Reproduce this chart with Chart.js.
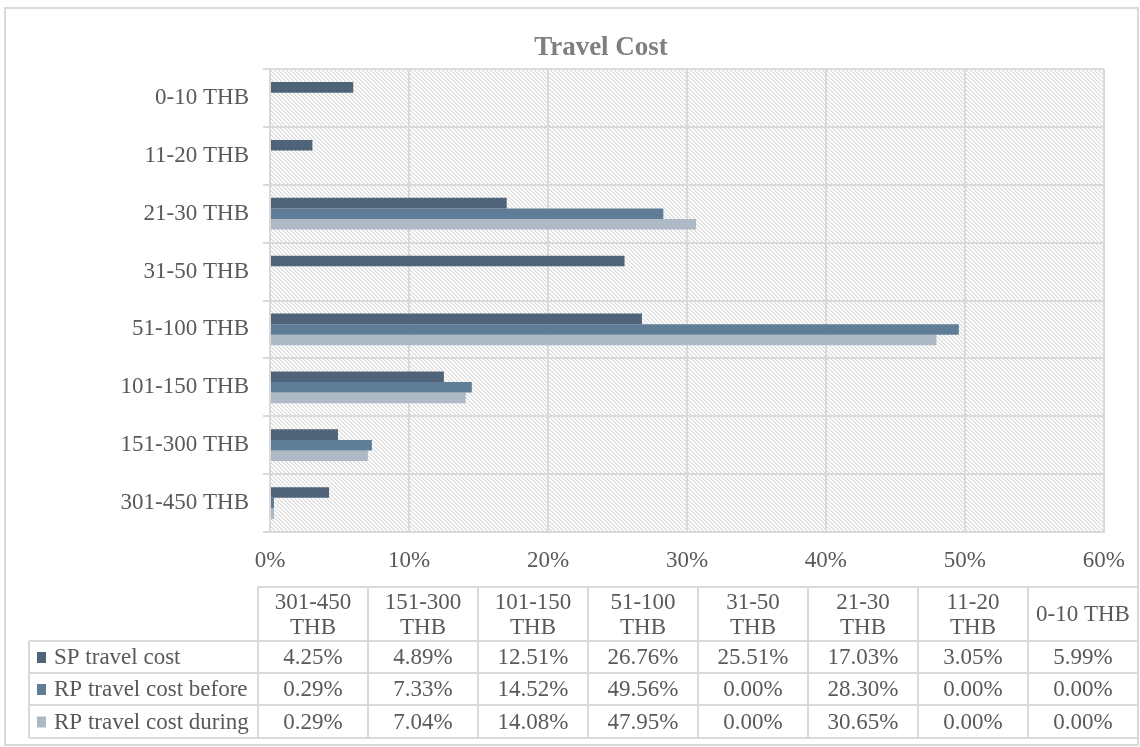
<!DOCTYPE html>
<html>
<head>
<meta charset="utf-8">
<script src="https://cdn.jsdelivr.net/npm/chart.js@4/dist/chart.umd.min.js"></script>
<style>
  html, body { margin: 0; padding: 0; background: #ffffff; }
  canvas { display: block; }
</style>
</head>
<body>
<canvas id="chart" width="1140" height="747"></canvas>
<script>
// Travel cost bands, in the order of the data table (bottom to top on the axis)
const categories = ['301-450 THB', '151-300 THB', '101-150 THB', '51-100 THB', '31-50 THB', '21-30 THB', '11-20 THB', '0-10 THB'];
const seriesNames = ['SP travel cost', 'RP travel cost before', 'RP travel cost during'];
// Shares of respondents, in percent
const spTravelCost = [4.25, 4.89, 12.51, 26.76, 25.51, 17.03, 3.05, 5.99];
const rpTravelCostBefore = [0.29, 7.33, 14.52, 49.56, 0.00, 28.30, 0.00, 0.00];
const rpTravelCostDuring = [0.29, 7.04, 14.08, 47.95, 0.00, 30.65, 0.00, 0.00];
const xTickMax = 60;
const xTickStep = 10;

const seriesColors = ['#4f6479', '#5f7d96', '#adb9c5'];
const textColor = '#595959';
const lineColor = '#d9d9d9';
const fontFamily = '"Liberation Serif", "Times New Roman", serif';

// Diagonal hatch used as the plot background
function makeHatch() {
  const s = 4;
  const tile = document.createElement('canvas');
  tile.width = s; tile.height = s;
  const g = tile.getContext('2d');
  g.fillStyle = '#ffffff';
  g.fillRect(0, 0, s, s);
  for (let i = 0; i < s; i++) {
    g.fillStyle = '#d9d9d9';
    g.fillRect(i, i, 1, 1);
    g.fillStyle = '#ececec';
    g.fillRect((i + 1) % s, i, 1, 1);
  }
  return tile;
}

const backdrop = {
  id: 'backdrop',
  beforeDraw(chart) {
    const ctx = chart.ctx;
    const a = chart.chartArea;
    ctx.save();
    ctx.fillStyle = '#ffffff';
    ctx.fillRect(0, 0, chart.width, chart.height);
    ctx.fillStyle = ctx.createPattern(makeHatch(), 'repeat');
    ctx.fillRect(a.left, a.top, a.right - a.left, a.bottom - a.top);
    ctx.restore();
  }
};

const frameAndTitle = {
  id: 'frameAndTitle',
  afterDraw(chart) {
    const ctx = chart.ctx;
    ctx.save();
    ctx.strokeStyle = lineColor;
    ctx.lineWidth = 2;
    ctx.strokeRect(5, 8, 1133, 737);
    ctx.fillStyle = '#7f7f7f';
    ctx.font = 'bold 27px ' + fontFamily;
    ctx.textAlign = 'center';
    ctx.textBaseline = 'alphabetic';
    ctx.fillText('Travel Cost', 601, 55);
    ctx.restore();
  }
};

// Data table under the axis: one column per band, one row per series
const dataTable = {
  id: 'dataTable',
  afterDraw(chart) {
    const ctx = chart.ctx;
    const labels = chart.data.labels;
    const sets = chart.data.datasets;
    const rowHeadLeft = 29;
    const colStart = 258;
    const right = 1138;
    const rows = [587, 641, 673, 705, 738];
    const colW = (right - colStart) / labels.length;

    ctx.save();
    ctx.strokeStyle = lineColor;
    ctx.lineWidth = 2;
    ctx.beginPath();
    ctx.moveTo(colStart, rows[0]); ctx.lineTo(right, rows[0]);
    for (let r = 1; r < rows.length; r++) {
      ctx.moveTo(rowHeadLeft, rows[r]); ctx.lineTo(right, rows[r]);
    }
    ctx.moveTo(rowHeadLeft, rows[1]); ctx.lineTo(rowHeadLeft, rows[rows.length - 1]);
    for (let c = 0; c <= labels.length; c++) {
      const x = colStart + c * colW;
      ctx.moveTo(x, rows[0]); ctx.lineTo(x, rows[rows.length - 1]);
    }
    ctx.stroke();

    ctx.font = '23px ' + fontFamily;
    ctx.fillStyle = textColor;
    ctx.textAlign = 'center';
    ctx.textBaseline = 'middle';
    labels.forEach((lab, c) => {
      const cx = colStart + (c + 0.5) * colW;
      const cy = (rows[0] + rows[1]) / 2 + 1;
      if (ctx.measureText(lab).width > colW - 8) {
        const k = lab.lastIndexOf(' ');
        ctx.fillText(lab.slice(0, k), cx, cy - 12);
        ctx.fillText(lab.slice(k + 1), cx, cy + 13);
      } else {
        ctx.fillText(lab, cx, cy);
      }
    });

    sets.forEach((ds, r) => {
      const cy = (rows[r + 1] + rows[r + 2]) / 2 + 1;
      ds.data.forEach((v, c) => {
        ctx.fillText(v.toFixed(2) + '%', colStart + (c + 0.5) * colW, cy);
      });
      ctx.fillStyle = ds.backgroundColor;
      ctx.fillRect(37, cy - 6, 9, 11);
      ctx.fillStyle = textColor;
      ctx.textAlign = 'left';
      ctx.fillText(ds.label, 54, cy);
      ctx.textAlign = 'center';
    });
    ctx.restore();
  }
};

const seriesValues = [spTravelCost, rpTravelCostBefore, rpTravelCostDuring];

new Chart(document.getElementById('chart'), {
  type: 'bar',
  data: {
    labels: categories,
    datasets: seriesNames.map((name, i) => ({
      label: name,
      data: seriesValues[i],
      backgroundColor: seriesColors[i],
      borderWidth: 0,
      categoryPercentage: 0.55,
      barPercentage: 1.0
    }))
  },
  options: {
    indexAxis: 'y',
    responsive: false,
    animation: false,
    devicePixelRatio: 1,
    layout: { padding: { top: 69, right: 34, bottom: 0, left: 0 } },
    plugins: {
      legend: { display: false },
      title: { display: false },
      tooltip: { enabled: false }
    },
    scales: {
      x: {
        min: 0,
        max: xTickMax,
        ticks: {
          stepSize: xTickStep,
          color: textColor,
          font: { family: fontFamily, size: 23 },
          padding: 15,
          callback: v => v + '%'
        },
        grid: { color: lineColor, lineWidth: 2, drawTicks: false },
        border: { color: lineColor, width: 2 },
        afterFit(scale) { scale.height = 215; }
      },
      y: {
        reverse: true,
        ticks: {
          color: textColor,
          font: { family: fontFamily, size: 23 },
          padding: 14
        },
        grid: { color: lineColor, lineWidth: 2, offset: true, tickLength: 7 },
        border: { color: lineColor, width: 2 },
        afterFit(scale) { scale.width = 270; }
      }
    }
  },
  plugins: [backdrop, frameAndTitle, dataTable]
});
</script>
</body>
</html>
